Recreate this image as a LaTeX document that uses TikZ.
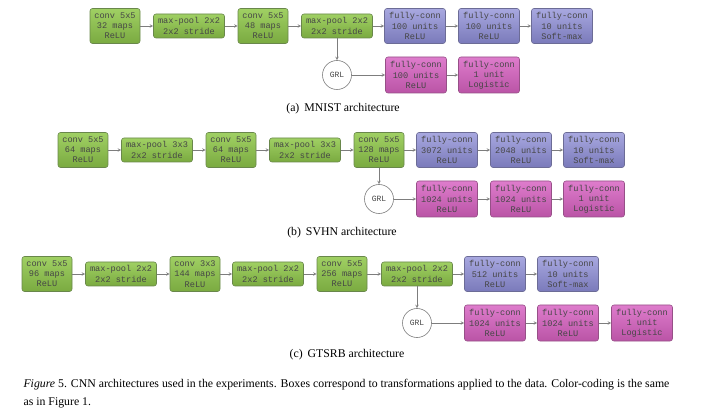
\documentclass[tikz,border=0pt]{standalone}
\usepackage{fontspec}
\setmainfont{Liberation Serif}
\setmonofont{Liberation Mono}
\definecolor{greentop}{RGB}{160,208,100}
\definecolor{greenbot}{RGB}{122,170,64}
\definecolor{greenline}{RGB}{105,135,75}
\definecolor{bluetop}{RGB}{168,168,224}
\definecolor{bluebot}{RGB}{122,122,186}
\definecolor{blueline}{RGB}{108,108,150}
\definecolor{pinktop}{RGB}{222,124,204}
\definecolor{pinkbot}{RGB}{186,84,166}
\definecolor{pinkline}{RGB}{150,80,135}
\definecolor{boxtext}{RGB}{70,70,70}
\definecolor{arrowgray}{RGB}{125,125,125}
\tikzset{
    layer/.style={draw, rounded corners=2.5pt, line width=0.6pt, align=center,
        inner sep=0pt, text=boxtext, font=\fontsize{8.6}{10.2}\selectfont\ttfamily},
    convbox/.style={layer, draw=greenline, top color=greentop, bottom color=greenbot,
        minimum width=50pt, minimum height=35pt},
    poolbox/.style={layer, draw=greenline, top color=greentop, bottom color=greenbot,
        minimum width=71pt, minimum height=24pt},
    fcbox/.style={layer, draw=blueline, top color=bluetop, bottom color=bluebot,
        minimum width=61pt, minimum height=35pt},
    dombox/.style={layer, draw=pinkline, top color=pinktop, bottom color=pinkbot,
        minimum width=61pt, minimum height=36pt},
    grlnode/.style={circle, draw=arrowgray, line width=0.6pt, minimum size=29pt, inner sep=0pt,
        text=boxtext, font=\fontsize{8}{10}\selectfont\ttfamily},
    flow/.style={->, >=stealth, draw=arrowgray, line width=0.6pt},
    subcap/.style={font=\fontsize{11.8}{14}\selectfont},
}

\begin{document}
\begin{tikzpicture}[x=1pt, y=-1pt]
\useasboundingbox (0,0) rectangle (714,411);
% (a) MNIST
\node[convbox] (mconv1) at (115,26) {conv 5x5\\32 maps\\ReLU};
\node[poolbox] (mpool1) at (189,26) {max-pool 2x2\\2x2 stride};
\node[convbox] (mconv2) at (263,26) {conv 5x5\\48 maps\\ReLU};
\node[poolbox] (mpool2) at (337,26) {max-pool 2x2\\2x2 stride};
\node[fcbox] (mfc1) at (415,26) {fully-conn\\100 units\\ReLU};
\node[fcbox] (mfc2) at (489,26) {fully-conn\\100 units\\ReLU};
\node[fcbox] (mfc3) at (562,26) {fully-conn\\10 units\\Soft-max};
\node[grlnode] (mgrl) at (337,75) {GRL};
\node[dombox] (mdom1) at (416,75) {fully-conn\\100 units\\ReLU};
\node[dombox] (mdom2) at (489,75) {fully-conn\\1 unit\\Logistic};
\draw[flow] (mconv1) -- (mpool1);
\draw[flow] (mpool1) -- (mconv2);
\draw[flow] (mconv2) -- (mpool2);
\draw[flow] (mpool2) -- (mfc1);
\draw[flow] (mfc1) -- (mfc2);
\draw[flow] (mfc2) -- (mfc3);
\draw[flow] (mpool2) -- (mgrl);
\draw[flow] (mgrl) -- (mdom1);
\draw[flow] (mdom1) -- (mdom2);
\node[subcap] (mcap) at (343,109) {(a)\, MNIST architecture};

% (b) SVHN
\node[convbox] (sconv1) at (83,150) {conv 5x5\\64 maps\\ReLU};
\node[poolbox] (spool1) at (157,150) {max-pool 3x3\\2x2 stride};
\node[convbox] (sconv2) at (231,150) {conv 5x5\\64 maps\\ReLU};
\node[poolbox] (spool2) at (305,150) {max-pool 3x3\\2x2 stride};
\node[convbox] (sconv3) at (379,150) {conv 5x5\\128 maps\\ReLU};
\node[fcbox] (sfc1) at (447,150) {fully-conn\\3072 units\\ReLU};
\node[fcbox] (sfc2) at (521,150) {fully-conn\\2048 units\\ReLU};
\node[fcbox] (sfc3) at (594,150) {fully-conn\\10 units\\Soft-max};
\node[grlnode] (sgrl) at (379,199) {GRL};
\node[dombox] (sdom1) at (447,199) {fully-conn\\1024 units\\ReLU};
\node[dombox] (sdom2) at (521,199) {fully-conn\\1024 units\\ReLU};
\node[dombox] (sdom3) at (594,199) {fully-conn\\1 unit\\Logistic};
\draw[flow] (sconv1) -- (spool1);
\draw[flow] (spool1) -- (sconv2);
\draw[flow] (sconv2) -- (spool2);
\draw[flow] (spool2) -- (sconv3);
\draw[flow] (sconv3) -- (sfc1);
\draw[flow] (sfc1) -- (sfc2);
\draw[flow] (sfc2) -- (sfc3);
\draw[flow] (sconv3) -- (sgrl);
\draw[flow] (sgrl) -- (sdom1);
\draw[flow] (sdom1) -- (sdom2);
\draw[flow] (sdom2) -- (sdom3);
\node[subcap] (scap) at (342,233) {(b)\, SVHN architecture};

% (c) GTSRB
\node[convbox] (gconv1) at (47,274) {conv 5x5\\96 maps\\ReLU};
\node[poolbox] (gpool1) at (121,274) {max-pool 2x2\\2x2 stride};
\node[convbox] (gconv2) at (195,274) {conv 3x3\\144 maps\\ReLU};
\node[poolbox] (gpool2) at (268,274) {max-pool 2x2\\2x2 stride};
\node[convbox] (gconv3) at (342,274) {conv 5x5\\256 maps\\ReLU};
\node[poolbox] (gpool3) at (417,274) {max-pool 2x2\\2x2 stride};
\node[fcbox] (gfc1) at (495,274) {fully-conn\\512 units\\ReLU};
\node[fcbox] (gfc2) at (568,274) {fully-conn\\10 units\\Soft-max};
\node[grlnode] (ggrl) at (417,323) {GRL};
\node[dombox] (gdom1) at (495,323) {fully-conn\\1024 units\\ReLU};
\node[dombox] (gdom2) at (568,323) {fully-conn\\1024 units\\ReLU};
\node[dombox] (gdom3) at (642,323) {fully-conn\\1 unit\\Logistic};
\draw[flow] (gconv1) -- (gpool1);
\draw[flow] (gpool1) -- (gconv2);
\draw[flow] (gconv2) -- (gpool2);
\draw[flow] (gpool2) -- (gconv3);
\draw[flow] (gconv3) -- (gpool3);
\draw[flow] (gpool3) -- (gfc1);
\draw[flow] (gfc1) -- (gfc2);
\draw[flow] (gpool3) -- (ggrl);
\draw[flow] (ggrl) -- (gdom1);
\draw[flow] (gdom1) -- (gdom2);
\draw[flow] (gdom2) -- (gdom3);
\node[subcap] (gcap) at (347,355) {(c)\, GTSRB architecture};

% figure caption
\node[subcap, anchor=west] (figcap1) at (20,385) {\textit{Figure} 5. CNN architectures used in the experiments. Boxes correspond to transformations applied to the data. Color-coding is the same};
\node[subcap, anchor=west] (figcap2) at (20,403) {as in Figure 1.};
\end{tikzpicture}
\end{document}
